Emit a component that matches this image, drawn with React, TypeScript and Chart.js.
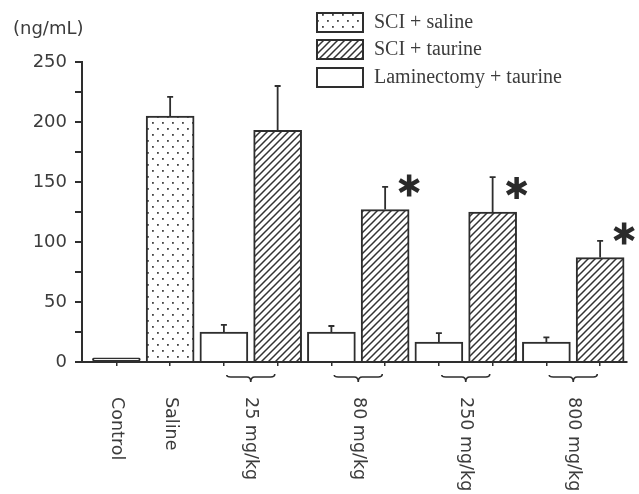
import React, { useEffect, useRef } from 'react';
import { Chart, registerables } from 'chart.js';

Chart.register(...registerables);

// ---- data ----
const categories = ['Control', 'Saline', '25-lam', '25-tau', '80-lam', '80-tau', '250-lam', '250-tau', '800-lam', '800-tau'];
const controlValues = [3.5, null, null, null, null, null, null, null, null, null];
const salineValues = [null, 205, null, null, null, null, null, null, null, null];
const taurineValues = [null, null, null, 193, null, 127, null, 125, null, 87];
const laminectomyValues = [null, null, 25, null, 25, null, 16.5, null, 16.5, null];
const controlErrors = [null, null, null, null, null, null, null, null, null, null];
const salineErrors = [null, 16, null, null, null, null, null, null, null, null];
const taurineErrors = [null, null, null, 37, null, 19, null, 29, null, 14];
const laminectomyErrors = [null, null, 6, null, 5, null, 7.5, null, 4, null];
const significant = [false, false, false, false, false, true, false, true, false, true];
const xLabels = ['Control', 'Saline', '25 mg/kg', '80 mg/kg', '250 mg/kg', '800 mg/kg'];
const xLabelSlots = [[0], [1], [2, 3], [4, 5], [6, 7], [8, 9]];
const legendLabels = ['SCI + saline', 'SCI + taurine', 'Laminectomy + taurine'];
const yUnit = '(ng/mL)';
const yMin = 0;
const yMax = 250;
const yStep = 25;
const yLabelStep = 50;

const INK = '#2e2e2e';
const TEXT = '#3c3c3c';

function makeDotPattern(): CanvasPattern | string {
  const w = 10;
  const h = 12;
  const c = document.createElement('canvas');
  c.width = w;
  c.height = h;
  const g = c.getContext('2d');
  if (!g) return '#fff';
  g.fillStyle = '#fff';
  g.fillRect(0, 0, w, h);
  g.fillStyle = '#444';
  g.fillRect(2, 2, 1.8, 1.8);
  g.fillRect(7, 8, 1.8, 1.8);
  return g.createPattern(c, 'repeat') || '#fff';
}

function makeHatchPattern(): CanvasPattern | string {
  const s = 7;
  const c = document.createElement('canvas');
  c.width = s;
  c.height = s;
  const g = c.getContext('2d');
  if (!g) return '#fff';
  g.fillStyle = '#fff';
  g.fillRect(0, 0, s, s);
  g.strokeStyle = '#333';
  g.lineWidth = 1.5;
  g.beginPath();
  g.moveTo(-1, s + 1);
  g.lineTo(s + 1, -1);
  g.moveTo(-1, 1);
  g.lineTo(1, -1);
  g.moveTo(s - 1, s + 1);
  g.lineTo(s + 1, s - 1);
  g.stroke();
  return g.createPattern(c, 'repeat') || '#fff';
}

const toPoints = (vals: (number | null)[]) => vals.map((v, i) => ({ x: i, y: v }));

export default function App() {
  const ref = useRef<HTMLCanvasElement | null>(null);

  useEffect(() => {
    const canvas = ref.current;
    if (!canvas) return;
    const dots = makeDotPattern();
    const hatch = makeHatchPattern();
    const legendFills = [dots, hatch, '#fff'];

    const errorsByDataset = [controlErrors, salineErrors, taurineErrors, laminectomyErrors];

    const errorPlugin = {
      id: 'errorBars',
      afterDatasetsDraw(chart: any) {
        const ctx = chart.ctx;
        const yScale = chart.scales.y;
        ctx.save();
        ctx.strokeStyle = INK;
        ctx.lineWidth = 1.8;
        chart.data.datasets.forEach((ds: any, di: number) => {
          const meta = chart.getDatasetMeta(di);
          const errs = errorsByDataset[di];
          ds.data.forEach((p: any, i: number) => {
            if (p.y == null || errs[i] == null) return;
            const el = meta.data[i];
            if (!el) return;
            const yTop = yScale.getPixelForValue(p.y + (errs[i] as number));
            ctx.beginPath();
            ctx.moveTo(el.x, el.y);
            ctx.lineTo(el.x, yTop);
            ctx.moveTo(el.x - 3, yTop);
            ctx.lineTo(el.x + 3, yTop);
            ctx.stroke();
          });
        });
        const tMeta = chart.getDatasetMeta(2);
        ctx.lineWidth = 4.5;
        ctx.strokeStyle = '#2a2a2a';
        significant.forEach((sig, i) => {
          if (!sig) return;
          const el = tMeta.data[i];
          if (!el) return;
          const cx = el.x + el.width / 2;
          const cy = el.y - 24;
          const r = 11;
          ctx.beginPath();
          for (const a of [90, 30, -30]) {
            const rad = (a * Math.PI) / 180;
            ctx.moveTo(cx - r * Math.cos(rad), cy - r * Math.sin(rad));
            ctx.lineTo(cx + r * Math.cos(rad), cy + r * Math.sin(rad));
          }
          ctx.stroke();
        });
        ctx.restore();
      },
    };

    const labelPlugin = {
      id: 'customLabels',
      afterDraw(chart: any) {
        const ctx = chart.ctx;
        const xScale = chart.scales.x;
        const bottom = chart.chartArea.bottom;
        ctx.save();
        ctx.fillStyle = TEXT;
        ctx.strokeStyle = INK;
        ctx.lineWidth = 1.6;
        ctx.font = '17.5px "DejaVu Sans"';
        xLabels.forEach((text, li) => {
          const slots = xLabelSlots[li];
          const px = slots.map((s) => xScale.getPixelForValue(s));
          const mid = px.reduce((a, b) => a + b, 0) / px.length;
          if (slots.length > 1) {
            const L = mid - 24;
            const R = mid + 24;
            const y0 = bottom + 15;
            ctx.beginPath();
            ctx.moveTo(L, y0 - 2);
            ctx.quadraticCurveTo(L, y0, L + 4, y0);
            ctx.lineTo(mid - 4, y0);
            ctx.quadraticCurveTo(mid, y0, mid, y0 + 5);
            ctx.quadraticCurveTo(mid, y0, mid + 4, y0);
            ctx.lineTo(R - 4, y0);
            ctx.quadraticCurveTo(R, y0, R, y0 - 3);
            ctx.stroke();
          }
          ctx.save();
          ctx.translate(mid, bottom + 35);
          ctx.rotate(Math.PI / 2);
          ctx.textAlign = 'left';
          ctx.textBaseline = 'middle';
          ctx.fillText(text, 0, 0);
          ctx.restore();
        });
        ctx.font = '18px "DejaVu Sans"';
        ctx.textAlign = 'left';
        ctx.textBaseline = 'middle';
        ctx.fillText(yUnit, 13, 29);
        const lx = 317;
        const tops = [13, 40, 68];
        legendLabels.forEach((lab, i) => {
          ctx.fillStyle = legendFills[i] as any;
          ctx.fillRect(lx, tops[i], 46, 19);
          ctx.lineWidth = 2;
          ctx.strokeStyle = INK;
          ctx.strokeRect(lx, tops[i], 46, 19);
          ctx.fillStyle = TEXT;
          ctx.font = '20px "Liberation Serif"';
          ctx.textBaseline = 'middle';
          ctx.fillText(lab, lx + 57, tops[i] + 10);
        });
        ctx.restore();
      },
    };

    const common = {
      borderColor: INK,
      borderWidth: 2,
      grouped: false,
      barThickness: 48,
    };

    const chart = new Chart(canvas, {
      type: 'bar',
      data: {
        datasets: [
          { label: 'Control', data: toPoints(controlValues), backgroundColor: '#fff', ...common, borderSkipped: false, borderRadius: 3 },
          { label: legendLabels[0], data: toPoints(salineValues), backgroundColor: dots as any, ...common },
          { label: legendLabels[1], data: toPoints(taurineValues), backgroundColor: hatch as any, ...common },
          { label: legendLabels[2], data: toPoints(laminectomyValues), backgroundColor: '#fff', ...common },
        ],
      } as any,
      options: {
        responsive: true,
        maintainAspectRatio: false,
        animation: false,
        layout: { padding: { top: 62, right: 12, left: 0, bottom: 0 } },
        plugins: { legend: { display: false }, tooltip: { enabled: false } },
        scales: {
          x: {
            type: 'linear',
            min: -0.64,
            max: 9.5,
            offset: false,
            afterBuildTicks: (s: any) => {
              s.ticks = categories.map((_, i) => ({ value: i }));
            },
            grid: {
              display: true,
              drawOnChartArea: false,
              drawTicks: true,
              tickLength: 4,
              color: INK,
              lineWidth: 1.5,
              offset: false,
            },
            border: { display: true, color: INK, width: 2 },
            ticks: { callback: () => '', autoSkip: false, maxRotation: 0 },
            afterFit: (s: any) => {
              s.height = 132;
            },
          },
          y: {
            min: yMin,
            max: yMax,
            ticks: {
              stepSize: yStep,
              autoSkip: false,
              callback: (v: any) => (Number(v) % yLabelStep === 0 ? String(v) : ''),
              font: { family: '"DejaVu Sans"', size: 18 },
              color: TEXT,
              padding: 8,
            },
            grid: {
              drawOnChartArea: false,
              drawTicks: true,
              tickLength: 7,
              color: INK,
              lineWidth: 2,
            },
            border: { display: true, color: INK, width: 2 },
            afterFit: (s: any) => {
              s.width = 82;
            },
          },
        },
      } as any,
      plugins: [errorPlugin, labelPlugin],
    });

    return () => chart.destroy();
  }, []);

  return (
    <div style={{ position: 'fixed', left: 0, top: 0, width: 639, height: 494 }}>
      <canvas ref={ref} style={{ display: 'block' }} />
    </div>
  );
}
